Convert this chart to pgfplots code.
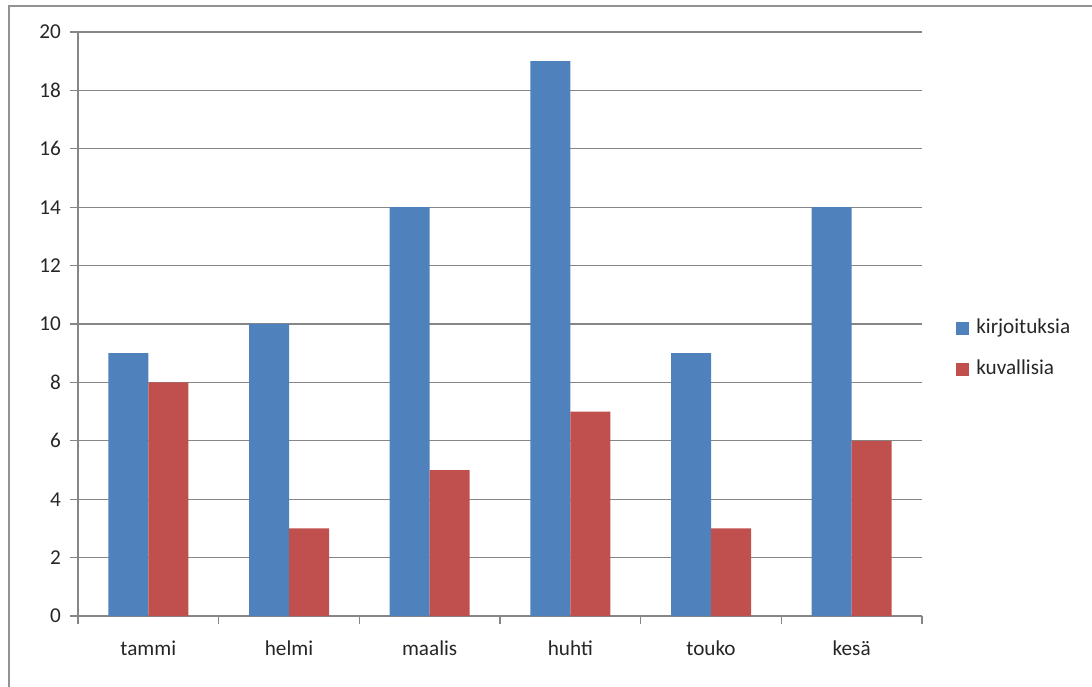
\documentclass[border=0pt]{standalone}
\usepackage{pgfplots}
\pgfplotsset{compat=1.18}
\usepackage{fontspec}
\setmainfont{Carlito}
\definecolor{cblue}{HTML}{4F81BD}
\definecolor{cred}{HTML}{C0504D}
\definecolor{cgrid}{HTML}{868686}
\definecolor{ctext}{HTML}{262626}
\begin{document}
\begin{tikzpicture}
\useasboundingbox (0,0) rectangle (546pt,343pt);
\draw[color=cgrid!90, line width=1.2pt] (4.5pt,-5pt) -- (4.5pt,340pt) -- (560pt,340pt);
\begin{axis}[
  at={(39pt,35pt)}, anchor=south west,
  scale only axis, width=422pt, height=292pt,
  xmin=-0.5, xmax=5.5, ymin=0, ymax=20,
  ytick={0,2,...,20},
  xtick={-0.5,0.5,...,5.5},
  xticklabels={tammi,helmi,maalis,huhti,touko,kes\"a},
  x tick label as interval,
  axis x line*=bottom, axis y line*=left,
  axis line style={cgrid, line width=0.6pt, -},
  ymajorgrids, grid style={cgrid, line width=0.6pt},
  tick align=outside, major tick length=4pt,
  tick style={cgrid, line width=0.6pt},
  ticklabel style={font=\fontsize{10.6}{12}\selectfont, text=ctext},
  /pgf/number format/assume math mode=true,
  yticklabel style={xshift=-1pt},
  xticklabel style={yshift=-5pt},
  ybar=0pt, bar width=20pt,
  legend style={at={(1.033,0.457)}, anchor=west, draw=none, fill=none,
    font=\fontsize{10.6}{12}\selectfont, text=ctext, row sep=10.5pt,
    nodes={inner sep=0.5pt, text height=7pt, text depth=2pt},
    /tikz/every odd column/.append style={column sep=3pt}},
  legend image code/.code={\fill[#1,draw=none] (0pt,-3.2pt) rectangle (6.5pt,3.2pt);},
  legend cell align=left,
]
\addplot[fill=cblue, draw=none] coordinates {(0,9) (1,10) (2,14) (3,19) (4,9) (5,14)};
\addplot[fill=cred, draw=none] coordinates {(0,8) (1,3) (2,5) (3,7) (4,3) (5,6)};
\legend{kirjoituksia, kuvallisia}
\end{axis}
\end{tikzpicture}
\end{document}
